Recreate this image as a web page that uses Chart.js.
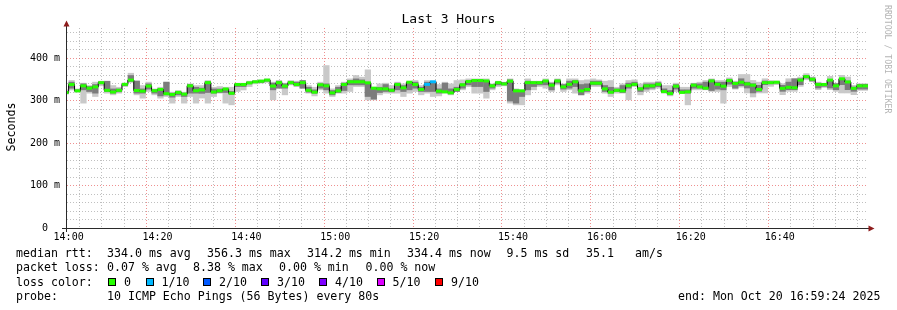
<!DOCTYPE html>
<html>
<head>
<meta charset="utf-8">
<title>Last 3 Hours</title>
<script src="https://cdn.jsdelivr.net/npm/chart.js@4.4.1/dist/chart.umd.min.js"></script>
<style>
  html, body { margin: 0; padding: 0; background: #fff; }
  #wrap { position: relative; width: 897px; height: 310px; overflow: hidden;
          font-family: "DejaVu Sans Mono", monospace; color: #000; }
  #chart { position: absolute; left: 0; top: 0; }
  #title { position: absolute; left: 0; top: 11px; width: 897px; text-align: center;
           font-size: 13px; line-height: 16px; }
  #ytitle { position: absolute; left: -39px; top: 120px; width: 100px; text-align: center;
            font-size: 11.6px; line-height: 14px; transform: rotate(-90deg); }
  #mark { position: absolute; left: 883px; top: 5px; writing-mode: vertical-rl;
          font-size: 8.2px; line-height: 10px; color: #b4b4b4; white-space: pre; }
  .t { position: absolute; white-space: pre; font-size: 11.6px; line-height: 14.3px; }
  .box { position: absolute; width: 6px; height: 6px; border: 1px solid #000; }
</style>
</head>
<body>
<div id="wrap">
  <canvas id="chart" width="897" height="310"></canvas>
  <div id="title">Last 3 Hours</div>
  <div id="ytitle">Seconds</div>
  <div id="mark">RRDTOOL / TOBI OETIKER</div>

  <div class="t" style="left:16px;top:246px">median rtt:</div>
  <div class="t" style="left:107px;top:246px">334.0 ms avg</div>
  <div class="t" style="left:207px;top:246px">356.3 ms max</div>
  <div class="t" style="left:307px;top:246px">314.2 ms min</div>
  <div class="t" style="left:407px;top:246px">334.4 ms now</div>
  <div class="t" style="left:506.5px;top:246px">9.5 ms sd</div>
  <div class="t" style="left:586px;top:246px">35.1</div>
  <div class="t" style="left:635px;top:246px">am/s</div>

  <div class="t" style="left:16px;top:260.3px">packet loss:</div>
  <div class="t" style="left:107px;top:260.3px">0.07 % avg</div>
  <div class="t" style="left:193px;top:260.3px">8.38 % max</div>
  <div class="t" style="left:279px;top:260.3px">0.00 % min</div>
  <div class="t" style="left:365.5px;top:260.3px">0.00 % now</div>

  <div class="t" style="left:16px;top:274.6px">loss color:</div>
  <div id="lossLegend"></div>

  <div class="t" style="left:16px;top:288.9px">probe:</div>
  <div class="t" style="left:107px;top:288.9px">10 ICMP Echo Pings (56 Bytes) every 80s</div>
  <div class="t" style="left:678px;top:288.9px">end: Mon Oct 20 16:59:24 2025</div>
</div>

<script>
// one probe round = 10 pings every 80 s, first full round starts at 14:00
const STEP = 80;

const xLabels = ['14:00', '14:20', '14:40', '15:00', '15:20', '15:40', '16:00', '16:20', '16:40'];
const yLabels = ['0  ', '100 m', '200 m', '300 m', '400 m'];

// median rtt per round (ms)
const median = [
  319, 337.6, 322.7, 334.5, 329, 332, 342, 324, 320, 324,
  338, 348, 323.5, 322, 334, 323, 326, 316, 314.2, 319,
  315, 334.5, 323, 325, 342, 320, 323, 327, 317, 337.6,
  337.6, 341.5, 344, 345.5, 348, 334, 342, 334, 342, 337.6,
  342, 324, 319.6, 337, 334.5, 318, 322.7, 337.6, 344, 344,
  344, 341.5, 329, 327.4, 327.4, 324, 337.6, 329.8, 343, 337.6,
  326, 338, 344, 322, 320.4, 318, 326, 337, 344.7, 347,
  347, 346, 334.5, 342, 339, 345.5, 322.7, 322.7, 342, 342,
  342, 346, 336, 346, 332, 338, 344, 322.7, 326, 340.8,
  340.8, 327.4, 319.6, 324, 322.7, 335, 338, 327.4, 334.5, 334.5,
  338, 321, 316.5, 333.7, 319, 320.4, 336, 332, 329, 346,
  338, 333.7, 347, 340, 343, 339, 336, 326, 342, 342,
  343, 328.6, 331, 330, 348, 356.3, 350, 337.6, 337.6, 348,
  334.5, 351, 343.6, 328.6, 334.5, 334.4
];

// slowest ping of the round
const smokeMax = [
  326, 348, 328, 341.6, 336, 344, 346.3, 346.3, 336, 332,
  341.6, 365, 347.8, 336, 344, 328, 332, 344, 320.4, 324.3,
  320.4, 340, 336, 336, 347.8, 332, 333.7, 332, 332, 341.6,
  341.6, 346.3, 347.8, 349.4, 351.7, 344, 347.8, 341.6, 347.8, 346.3,
  347.8, 336, 332, 343.9, 383, 328.2, 336, 343.9, 351.7, 359.6,
  355.7, 373, 332, 340, 341.6, 336, 343.9, 340, 346.3, 347.8,
  336, 347.8, 346.3, 338.4, 343.9, 340, 347.8, 349.4, 351.7, 351.7,
  351.7, 351.7, 340, 346.3, 343.9, 351.7, 328.2, 325.9, 351.7, 346.3,
  346.3, 351.7, 343.9, 351.7, 340, 351.7, 351.7, 347.8, 349.4, 351.7,
  349.4, 346.3, 347.8, 332, 340, 347.8, 349.4, 340, 343.9, 343.9,
  346.3, 336, 336, 341.6, 332, 332, 341.6, 343.9, 347.8, 351.7,
  347.8, 347.8, 354, 346.3, 362, 362, 348, 344, 352, 348,
  346.7, 340.4, 352, 352, 356, 364, 356, 344, 341.6, 357.6,
  341.6, 360, 356, 336.5, 340.4, 340.4
];

// fastest ping of the round
const smokeMin = [
  314, 324, 319, 293, 316.5, 308.6, 333.7, 316.5, 312.5, 316.5,
  332, 341.6, 312.5, 304.7, 320.4, 312.5, 304.7, 308.6, 293, 308.6,
  293, 308.6, 293, 305, 293, 308.6, 316.5, 293, 289, 320.4,
  324, 332, 338.4, 340, 341.6, 300.8, 328.2, 312.5, 336, 332,
  328.2, 316.5, 310, 324.3, 316.5, 308.6, 316.5, 316.5, 320.4, 332,
  332, 300.8, 300.8, 312.5, 316.5, 316.5, 316.5, 308.6, 316.5, 320.4,
  312.5, 316.5, 308.6, 310, 316.5, 312.5, 320.4, 324.3, 332, 316.5,
  316.5, 304.7, 324.3, 332, 333.7, 293, 289, 289, 312.5, 324.3,
  332, 328.2, 320.4, 336, 320.4, 324.3, 316.5, 312.5, 316.5, 332,
  332, 316.5, 308.6, 316.5, 316.5, 300.8, 332, 312.5, 320.4, 324.3,
  328.2, 316.5, 310, 320.4, 316.5, 289, 324.3, 324.3, 324.3, 320.4,
  320.4, 293, 332, 326, 330.6, 317, 307.5, 317, 317, 332.5,
  336.5, 313, 320.8, 320.8, 332.5, 348, 344, 324.7, 330, 324.7,
  320.8, 316.9, 316.9, 313, 323, 323
];

// dense part of the smoke (middle pings)
const coreMax = [
  322, 344, 326, 340, 333.7, 338.4, 344.7, 346, 328, 328,
  340, 359.6, 346, 328, 340, 326, 328, 344, 318, 322,
  318, 338.4, 332, 330, 345.5, 328, 328, 328, 322, 340,
  340, 344, 346.3, 347.8, 349.4, 341.6, 346.3, 340, 345.5, 343.9,
  347.8, 332, 325.9, 340, 340, 324.3, 332, 341.6, 347.8, 351.7,
  349.4, 343.9, 330.6, 332, 338.4, 328, 341.6, 336, 343, 343.9,
  332, 343.9, 345.5, 328.2, 341.6, 328.2, 332, 340, 347.8, 349.4,
  349.4, 347.8, 338.4, 344.7, 343, 349.4, 325.9, 324.3, 346.3, 344.7,
  344.7, 347.8, 341.6, 349.4, 338.4, 346.3, 347.8, 338.4, 340, 346.3,
  346.3, 336, 332, 328.2, 336, 341.6, 343.9, 330.6, 340, 340,
  343, 328.2, 324.3, 338.4, 325.9, 325.9, 340, 340, 343.9, 349.4,
  343.9, 343.9, 351, 343.9, 352, 344, 340.4, 336.5, 346.7, 344.7,
  344.7, 336.5, 344, 352, 352, 360, 354, 341.6, 340.4, 348,
  340.4, 352, 346.7, 332.5, 338.9, 338.9
];

const coreMin = [
  316, 328, 320.4, 324.3, 320.4, 316.5, 338.4, 320.4, 316.5, 319.6,
  334, 344, 316.5, 316.5, 326, 316.5, 310, 312.5, 307, 312.5,
  308.6, 316.5, 316.5, 316, 318, 316.5, 318, 318, 314, 332,
  332, 338.4, 341.6, 341.6, 344.7, 324.3, 328.2, 328.2, 338.4, 333.7,
  328.2, 318.8, 316.5, 328.2, 324.3, 312.5, 318, 322.7, 336, 336,
  336, 308.6, 302.4, 318, 320.4, 319.6, 324.3, 320.4, 324.3, 328.2,
  320.4, 320.4, 320.4, 316.5, 318, 315, 320.4, 328.2, 336, 332,
  332, 320.4, 328.2, 336, 336, 298, 293, 308.6, 324.3, 332,
  336, 336, 324.3, 340, 326, 328.2, 332, 312.5, 320.4, 336,
  336, 320.4, 316.5, 320.4, 318, 328.2, 334, 320.4, 326, 328.2,
  332, 318, 312.5, 326, 318, 316.5, 328.2, 328.2, 326, 322.7,
  326, 324.3, 337.6, 328.2, 334, 328.6, 317, 320.8, 336.5, 338.4,
  340.4, 320.8, 324.7, 324.7, 336.5, 352, 345, 328.6, 332.5, 328.6,
  324.7, 336.5, 324.7, 320.8, 326, 326
];

// lost pings (out of 10) per round
const loss = [
  0, 0, 0, 0, 0, 0, 0, 0, 0, 0,
  0, 0, 0, 0, 0, 0, 0, 0, 0, 0,
  0, 0, 0, 0, 0, 0, 0, 0, 0, 0,
  0, 0, 0, 0, 0, 0, 0, 0, 0, 0,
  0, 0, 0, 0, 0, 0, 0, 0, 0, 0,
  0, 0, 0, 0, 0, 0, 0, 0, 0, 0,
  0, 1, 1, 0, 0, 0, 0, 0, 0, 0,
  0, 0, 0, 0, 0, 0, 0, 0, 0, 0,
  0, 0, 0, 0, 0, 0, 0, 0, 0, 0,
  0, 0, 0, 0, 0, 0, 0, 0, 0, 0,
  0, 0, 0, 0, 0, 0, 0, 0, 0, 0,
  0, 0, 0, 0, 0, 0, 0, 0, 0, 0,
  0, 0, 0, 0, 0, 0, 0, 0, 0, 0,
  0, 0, 0, 0, 0, 0
];

const lossLevels = [0, 1, 2, 3, 4, 5, 9];
const lossLabels = ['0', '1/10', '2/10', '3/10', '4/10', '5/10', '9/10'];
const lossColors = ['#26ff00', '#00b8ff', '#0059ff', '#5e00ff', '#7e00ff', '#dd00ff', '#ff0000'];

const MAJOR = 'rgba(228, 70, 70, 0.6)';
const MINOR = 'rgba(140, 140, 140, 0.55)';

// legend row for the loss colours
const boxLeft = [108, 145.5, 203, 261, 319, 376.5, 435];
let legendHtml = '';
lossLabels.forEach(function(lbl, k) {
    legendHtml += '<span class="box" style="left:' + boxLeft[k] + 'px;top:278px;background:' + lossColors[k] + '"></span>';
    legendHtml += '<div class="t" style="left:' + (boxLeft[k] + 16) + 'px;top:274.6px">' + lbl + '</div>';
});
document.getElementById('lossLegend').innerHTML = legendHtml;

function lossColor(n) {
    let c = lossColors[0];
    lossLevels.forEach(function(lv, k) { if (n >= lv) c = lossColors[k]; });
    return c;
}

function roundStart(i) { return STEP * (i - 1); }

const outerSmoke = median.map((m, i) => ({ x: roundStart(i) + STEP / 2, y: [smokeMin[i], smokeMax[i]] }));
const innerSmoke = median.map((m, i) => ({ x: roundStart(i) + STEP / 2, y: [coreMin[i], coreMax[i]] }));
const medianMarks = median.map((m, i) => ({ x: roundStart(i) + STEP / 2, y: m }));
const medianSteps = median.map((m, i) => ({ x: roundStart(i), y: m }));
medianSteps.push({ x: roundStart(median.length), y: median[median.length - 1] });

function halfStep(ctx) {
    const s = ctx.chart.scales.x;
    return (s.getPixelForValue(STEP) - s.getPixelForValue(0)) / 2;
}

// axis lines with the rrdtool arrows
const rrdAxes = {
    id: 'rrdAxes',
    afterDatasetsDraw(chart) {
        const ctx = chart.ctx;
        const a = chart.chartArea;
        ctx.save();
        ctx.fillStyle = '#2a2a2a';
        ctx.fillRect(a.left - 1, a.top - 2, 1, a.bottom - a.top + 6);
        ctx.fillRect(a.left - 5, a.bottom, a.right - a.left + 6, 1);
        ctx.fillStyle = '#8e1c1c';
        ctx.beginPath();
        ctx.moveTo(a.left - 3.5, a.top - 1.5);
        ctx.lineTo(a.left + 2.5, a.top - 1.5);
        ctx.lineTo(a.left - 0.5, a.top - 7.5);
        ctx.closePath();
        ctx.fill();
        ctx.beginPath();
        ctx.moveTo(a.right + 0.5, a.bottom - 2.5);
        ctx.lineTo(a.right + 0.5, a.bottom + 3.5);
        ctx.lineTo(a.right + 6.5, a.bottom + 0.5);
        ctx.closePath();
        ctx.fill();
        ctx.restore();
    }
};

Chart.defaults.font.family = '"DejaVu Sans Mono", monospace';
Chart.defaults.color = '#000';

new Chart(document.getElementById('chart').getContext('2d'), {
    type: 'bar',
    data: {
        datasets: [
            {
                type: 'line',
                data: medianMarks,
                showLine: false,
                pointStyle: 'line',
                pointRadius: halfStep,
                pointBorderWidth: 3,
                pointBorderColor: ctx => lossColor(loss[ctx.dataIndex]),
                pointBackgroundColor: ctx => lossColor(loss[ctx.dataIndex]),
                clip: 0,
                order: 0
            },
            {
                type: 'line',
                data: medianSteps,
                stepped: true,
                borderColor: '#000',
                borderWidth: 1,
                pointRadius: 0,
                fill: false,
                clip: 0,
                order: 1
            },
            {
                data: innerSmoke,
                backgroundColor: '#7c7c7c',
                borderWidth: 0,
                grouped: false,
                barPercentage: 1.06,
                categoryPercentage: 1,
                clip: 0,
                order: 2
            },
            {
                data: outerSmoke,
                backgroundColor: '#c9c9c9',
                borderWidth: 0,
                grouped: false,
                barPercentage: 1.06,
                categoryPercentage: 1,
                clip: 0,
                order: 3
            }
        ]
    },
    options: {
        responsive: false,
        devicePixelRatio: 1,
        animation: false,
        events: [],
        layout: { padding: { left: 0, top: 28, right: 29, bottom: 62 } },
        plugins: { legend: { display: false }, tooltip: { enabled: false }, title: { display: false } },
        scales: {
            x: {
                type: 'linear',
                min: -22,
                max: 10792,
                offset: false,
                afterBuildTicks: s => {
                    const t = [];
                    for (let v = 0; v <= s.max; v += 300) t.push({ value: v });
                    s.ticks = t;
                },
                afterFit: s => { s.height = 20; },
                ticks: {
                    autoSkip: false,
                    maxRotation: 0,
                    padding: 3,
                    font: { size: 10 },
                    callback: v => (v % 1200 === 0 ? xLabels[v / 1200] : '')
                },
                grid: {
                    drawTicks: false,
                    lineWidth: 1,
                    color: c => (c.tick && c.tick.value % 1200 === 0 ? MAJOR : MINOR)
                },
                border: { display: false, dash: [1, 2] }
            },
            y: {
                min: 0,
                max: 470.6,
                afterBuildTicks: s => {
                    const t = [];
                    for (let v = 0; v <= 460; v += 20) t.push({ value: v });
                    s.ticks = t;
                },
                afterFit: s => { s.width = 67; },
                ticks: {
                    autoSkip: false,
                    padding: 7,
                    font: { size: 10 },
                    callback: v => (v % 100 === 0 ? yLabels[v / 100] : '')
                },
                grid: {
                    drawTicks: false,
                    lineWidth: 1,
                    color: c => {
                        if (!c.tick || c.tick.value === 0) return 'rgba(0,0,0,0)';
                        return c.tick.value % 100 === 0 ? MAJOR : MINOR;
                    }
                },
                border: { display: false, dash: [1, 2] }
            }
        }
    },
    plugins: [rrdAxes]
});
</script>
</body>
</html>
